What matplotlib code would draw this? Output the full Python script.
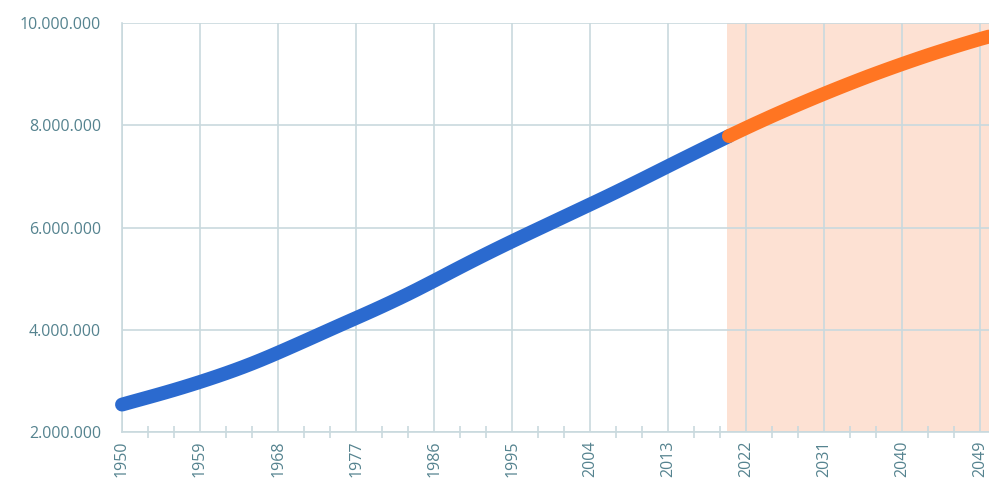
import numpy as np
import matplotlib.pyplot as plt
from matplotlib.ticker import FuncFormatter, MultipleLocator

plt.rcParams["font.family"] = ["Open Sans", "DejaVu Sans"]

# World population (thousands), estimates and medium-variant projection
years_hist = list(range(1950, 2021))
pop_hist = [
    2536431, 2584034, 2630862, 2677609, 2724847, 2773020, 2822443, 2873306, 2925687, 2979576,
    3034950, 3091844, 3150421, 3211001, 3273978, 3339584, 3407923, 3478770, 3551599, 3625681,
    3700437, 3775760, 3851651, 3927781, 4003794, 4079480, 4154667, 4229506, 4304534, 4380506,
    4458003, 4536997, 4617387, 4699569, 4784012, 4870922, 4958000, 5046000, 5135000, 5223000,
    5310000, 5396000, 5481000, 5565000, 5648000, 5730000, 5811000, 5892000, 5972000, 6052000,
    6132000, 6212000, 6292000, 6372000, 6452000, 6532000, 6613000, 6695000, 6778000, 6862000,
    6946000, 7031000, 7116000, 7201000, 7286000, 7370000, 7454000, 7538000, 7622000, 7705000,
    7788000,
]
years_proj = list(range(2020, 2051))
pop_proj = [
    7788000, 7869000, 7949000, 8028000, 8105000, 8182000, 8257000, 8331000, 8404000, 8476000,
    8547000, 8617000, 8686000, 8754000, 8821000, 8887000, 8952000, 9015000, 9077000, 9138000,
    9198000, 9257000, 9315000, 9372000, 9427000, 9481000, 9535000, 9587000, 9638000, 9688000,
    9735000,
]
proj_start = 2019.8

grid_col = "#c9d9de"
label_col = "#55838f"

fig = plt.figure(figsize=(9.89, 4.79), dpi=100)
ax = fig.add_axes([122 / 989, 47 / 479, 867 / 989, 409 / 479])

ax.axvspan(proj_start, 2050, color="#fde1d3", lw=0, zorder=0)

ax.plot(years_hist, pop_hist, color="#2b6acf", lw=10, solid_capstyle="round",
        zorder=3, clip_on=False)
ax.plot(years_proj, pop_proj, color="#ff7522", lw=10, solid_capstyle="round",
        zorder=4)

ax.set_xlim(1950, 2050)
ax.set_ylim(2000000, 10000000)

ax.xaxis.set_major_locator(MultipleLocator(9, offset=1950 % 9))
ax.xaxis.set_minor_locator(MultipleLocator(3, offset=1950 % 3))
ax.yaxis.set_major_locator(MultipleLocator(2000000))
ax.yaxis.set_major_formatter(FuncFormatter(lambda v, p: f"{int(v):,}".replace(",", ".")))

ax.grid(True, which="major", color=grid_col, lw=1.2, zorder=1)
ax.set_axisbelow(True)

for side in ["top", "right"]:
    ax.spines[side].set_visible(False)
ax.spines["left"].set_color(grid_col)
ax.spines["bottom"].set_color(grid_col)
ax.spines["left"].set_linewidth(1.2)
ax.spines["bottom"].set_linewidth(1.2)

ax.tick_params(axis="x", which="major", length=0, pad=6, labelsize=11.5,
               labelcolor=label_col, labelrotation=90)
ax.tick_params(axis="x", which="minor", direction="inout", length=9, width=1.2,
               color=grid_col)
ax.tick_params(axis="y", which="major", length=0, pad=15, labelsize=11.5,
               labelcolor=label_col)

fig.savefig("out.png", dpi=100)
